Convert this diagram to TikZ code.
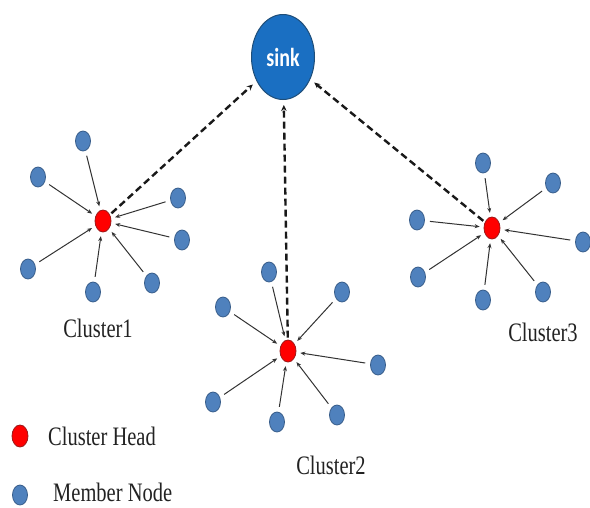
\documentclass[tikz,border=0pt]{standalone}
\usepackage{fontspec}
\setmainfont{Liberation Serif}
\newfontfamily\sinkfont{Carlito}
\usetikzlibrary{shapes.geometric,arrows.meta}
\definecolor{memberblue}{HTML}{4F81BD}
\definecolor{memberline}{HTML}{385D8A}
\definecolor{sinkblue}{HTML}{1A6FC2}
\definecolor{sinkline}{HTML}{1F4E79}
\definecolor{headline}{HTML}{9C1A1A}
\definecolor{txt}{HTML}{222222}

\begin{document}
\begin{tikzpicture}[
  x=1pt, y=-1pt,
  member/.style = {ellipse, draw=memberline, fill=memberblue, line width=0.8pt, minimum width=15pt, minimum height=20pt, inner sep=0pt},
  head/.style = {ellipse, draw=headline, fill=red, line width=0.8pt, minimum width=16pt, minimum height=22pt, inner sep=0pt},
  sinknode/.style = {ellipse, draw=sinkline, fill=sinkblue, line width=1pt, minimum width=63pt, minimum height=85pt, inner sep=0pt, text=white, font=\sinkfont\bfseries\fontsize{20}{20}\selectfont},
  lbl/.style = {text=txt, font=\fontsize{20.5}{20.5}\selectfont, inner sep=0pt, yscale=1.3, transform shape},
  toward/.style = {draw=black!80, line width=1pt, -{Stealth[length=5pt,width=4pt]}, shorten <=5pt, shorten >=4pt},
  uplink/.style = {draw=black!90, line width=2.4pt, dash pattern=on 7pt off 4pt, -{Stealth[length=6pt,width=5.5pt]}, shorten <=2pt, shorten >=5pt}
]
  \useasboundingbox (0,0) rectangle (590,507);

  % sink
  \node[sinknode] (sink) at (283,57) {\scalebox{1}[1.3]{sink}};

  % cluster heads
  \node[head] (h1) at (103,221) {};
  \node[head] (h2) at (288,351) {};
  \node[head] (h3) at (492,228) {};

  % cluster 1
  \node[member] (a1) at (83,141) {};
  \node[member] (a2) at (38,177) {};
  \node[member] (a3) at (178,198) {};
  \node[member] (a4) at (182,240) {};
  \node[member] (a5) at (28,269) {};
  \node[member] (a6) at (93,292) {};
  \node[member] (a7) at (152,283) {};

  % cluster 2
  \node[member] (b1) at (269,272) {};
  \node[member] (b2) at (223,307) {};
  \node[member] (b3) at (342,292) {};
  \node[member] (b4) at (378,365) {};
  \node[member] (b5) at (213,402) {};
  \node[member] (b6) at (277,422) {};
  \node[member] (b7) at (337,415) {};

  % cluster 3
  \node[member] (c1) at (483,163) {};
  \node[member] (c2) at (553,183) {};
  \node[member] (c3) at (417,220) {};
  \node[member] (c4) at (583,242) {};
  \node[member] (c5) at (418,277) {};
  \node[member] (c6) at (483,300) {};
  \node[member] (c7) at (543,292) {};

  \draw[toward] (a1) -- (h1); \draw[toward] (a2) -- (h1); \draw[toward] (a3) -- (h1);
  \draw[toward] (a4) -- (h1); \draw[toward] (a5) -- (h1); \draw[toward] (a6) -- (h1);
  \draw[toward] (a7) -- (h1);

  \draw[toward] (b1) -- (h2); \draw[toward] (b2) -- (h2); \draw[toward] (b3) -- (h2);
  \draw[toward] (b4) -- (h2); \draw[toward] (b5) -- (h2); \draw[toward] (b6) -- (h2);
  \draw[toward] (b7) -- (h2);

  \draw[toward] (c1) -- (h3); \draw[toward] (c2) -- (h3); \draw[toward] (c3) -- (h3);
  \draw[toward] (c4) -- (h3); \draw[toward] (c5) -- (h3); \draw[toward] (c6) -- (h3);
  \draw[toward] (c7) -- (h3);

  % links to the sink
  \draw[uplink] (h1) -- (sink);
  \draw[uplink] (h2) -- (sink);
  \draw[uplink] (h3) -- (sink);

  % cluster names
  \node[lbl] (n1) at (98,328) {Cluster1};
  \node[lbl] (n2) at (331,465) {Cluster2};
  \node[lbl] (n3) at (543,332) {Cluster3};

  % legend
  \node[head] (keyhead) at (20,436) {};
  \node[member] (keymember) at (20,495) {};
  \node[lbl, anchor=west] (keyheadtext) at (48,436) {Cluster Head};
  \node[lbl, anchor=west] (keymembertext) at (53,492) {Member Node};
\end{tikzpicture}
\end{document}
